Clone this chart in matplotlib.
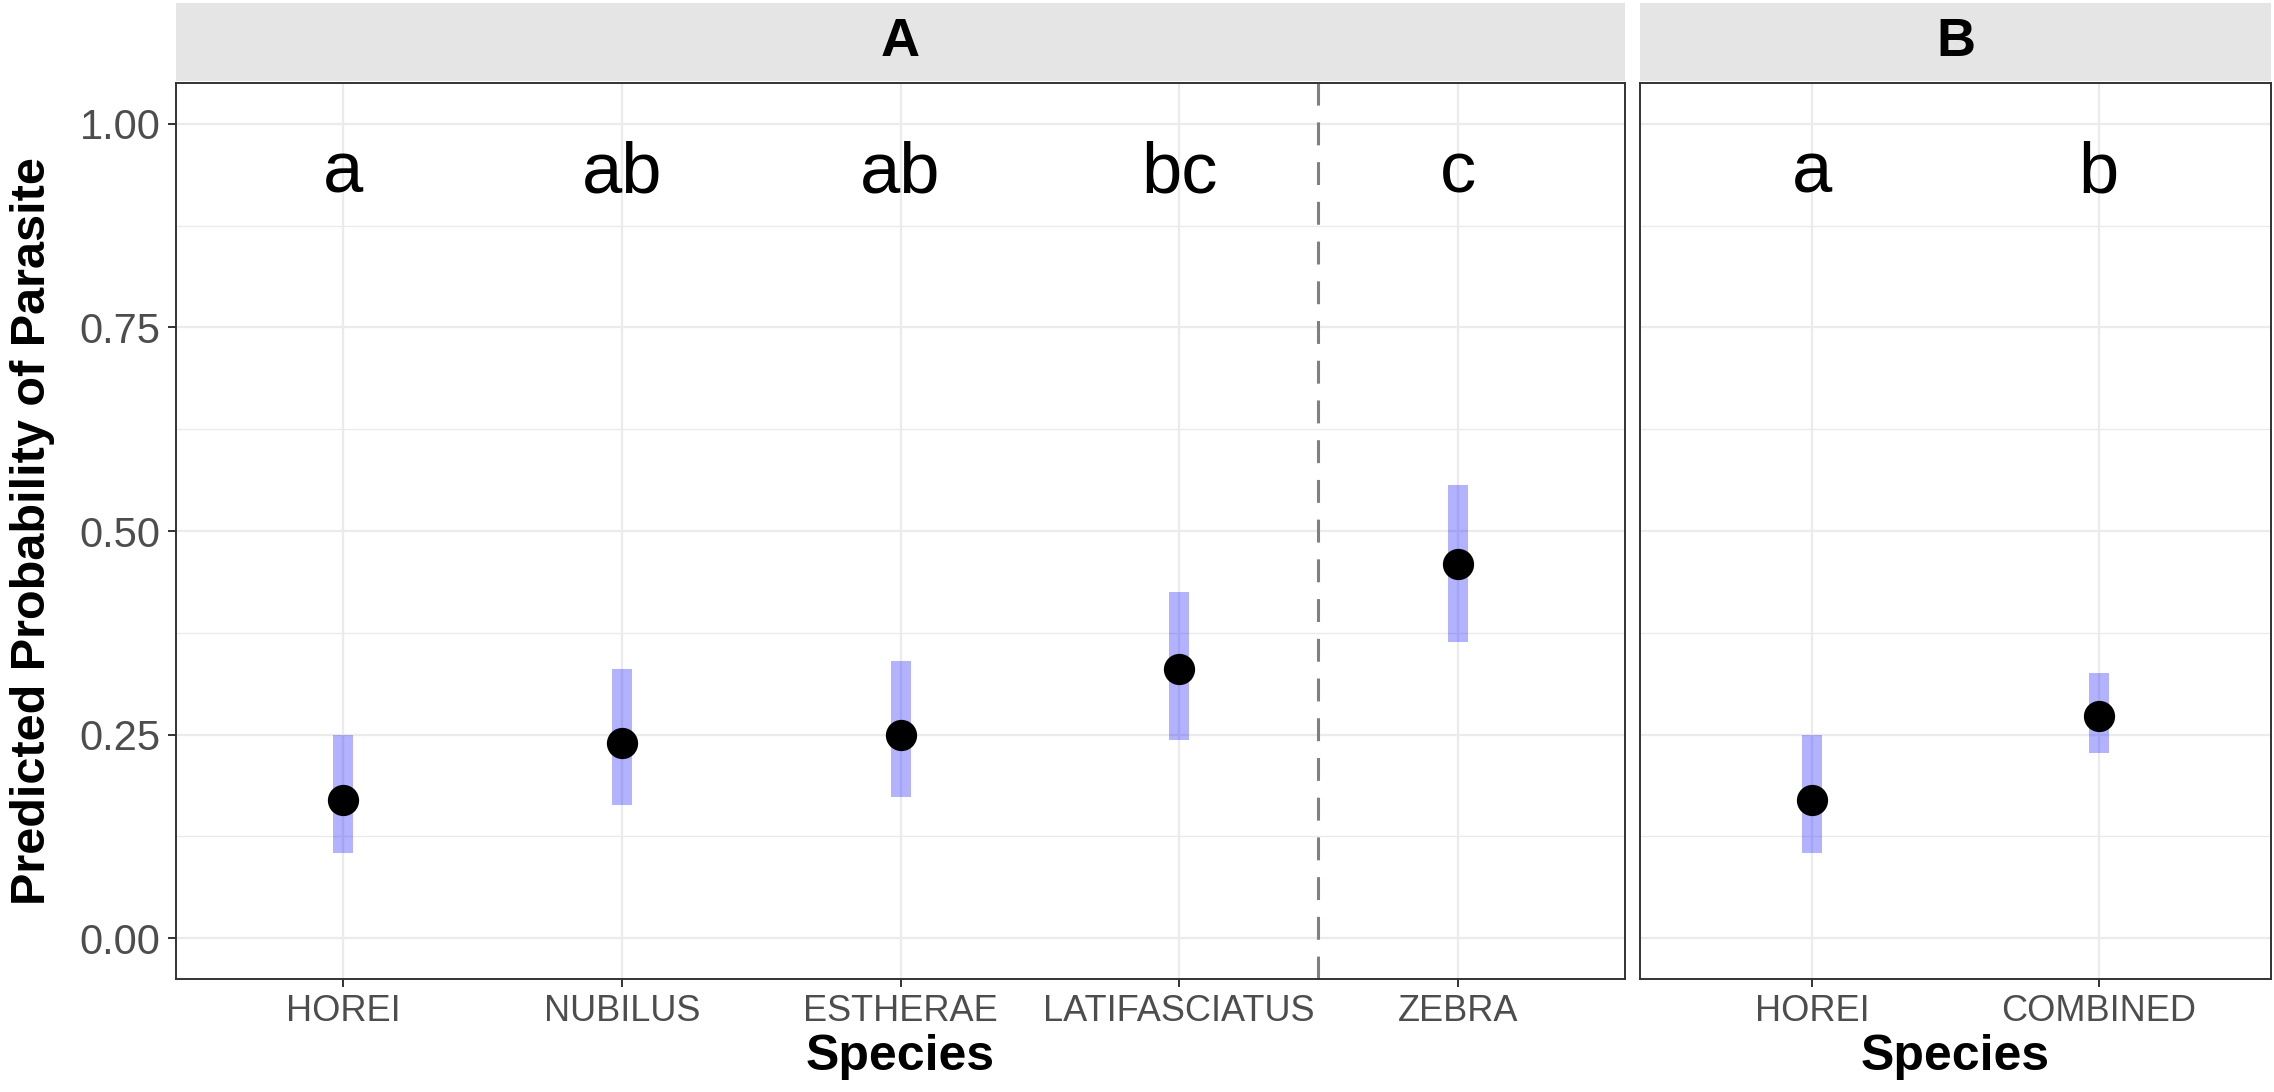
import matplotlib
matplotlib.use("Agg")
import matplotlib.pyplot as plt

plt.rcParams["font.family"] = ["Liberation Sans", "DejaVu Sans"]

# panel A
species_a = ["HOREI", "NUBILUS", "ESTHERAE", "LATIFASCIATUS", "ZEBRA"]
prob_a = [0.17, 0.24, 0.25, 0.33, 0.46]
lower_a = [0.105, 0.164, 0.173, 0.243, 0.364]
upper_a = [0.25, 0.33, 0.34, 0.425, 0.557]
letters_a = ["a", "ab", "ab", "bc", "c"]

# panel B
species_b = ["HOREI", "COMBINED"]
prob_b = [0.17, 0.273]
lower_b = [0.105, 0.227]
upper_b = [0.25, 0.326]
letters_b = ["a", "b"]

W, H = 2274, 1092
fig = plt.figure(figsize=(W / 100, H / 100), dpi=100)


def fx(px):
    return px / W


def fy(px):
    return 1 - px / H


panel_top, panel_bot, strip_top = 83, 979, 3
ax_a = fig.add_axes([fx(176), fy(panel_bot), fx(1625 - 176), (panel_bot - panel_top) / H])
ax_b = fig.add_axes([fx(1640), fy(panel_bot), fx(2271 - 1640), (panel_bot - panel_top) / H])

spine_col = "#333333"
grid_col = "#ebebeb"
label_y = 0.915

for ax, names, p, lo, hi, lets in [
    (ax_a, species_a, prob_a, lower_a, upper_a, letters_a),
    (ax_b, species_b, prob_b, lower_b, upper_b, letters_b),
]:
    x = list(range(len(names)))
    ax.set_xlim(-0.6, len(names) - 0.4)
    ax.set_ylim(-0.05, 1.05)
    ax.set_yticks([0, 0.25, 0.5, 0.75, 1.0])
    ax.set_yticks([0.125, 0.375, 0.625, 0.875], minor=True)
    ax.set_xticks(x)
    ax.set_xticklabels(names, fontsize=26, color="#4d4d4d")
    ax.grid(True, which="major", color=grid_col, lw=1.6, zorder=0)
    ax.grid(True, which="minor", axis="y", color=grid_col, lw=1.0, zorder=0)
    ax.set_axisbelow(True)
    for s in ax.spines.values():
        s.set_color(spine_col)
        s.set_linewidth(1.4)
    ax.tick_params(axis="both", which="major", length=6, width=1.4, color=spine_col, pad=5)
    ax.tick_params(axis="y", which="minor", length=0)

    ax.vlines(x, lo, hi, colors="blue", alpha=0.3, lw=14.4, capstyle="butt", zorder=2)
    ax.scatter(x, p, s=22.5 ** 2, color="black", zorder=3, linewidths=0)
    for xi, t in zip(x, lets):
        ax.text(xi, label_y, t, ha="center", va="baseline", fontsize=52, color="black")

    ax.set_xlabel("Species", fontsize=36, fontweight="bold")
    ax.xaxis.set_label_coords(0.5, -0.087)
    ax.xaxis.label.set_va("center")

ax_a.axvline(3.5, color="#808080", lw=2.2, linestyle=(0, (7.5, 5.5)), zorder=1)

ax_a.set_yticklabels(["0.00", "0.25", "0.50", "0.75", "1.00"], fontsize=30, color="#4d4d4d")
ax_b.tick_params(axis="y", which="both", length=0, labelleft=False)

ax_a.set_ylabel("Predicted Probability of Parasite", fontsize=35, fontweight="bold")
ax_a.yaxis.set_label_coords((33 - 176) / (1625 - 176), 0.5)
ax_a.yaxis.label.set_va("center")

# facet strips
for left, right, title in [(176, 1625, "A"), (1640, 2271, "B")]:
    sax = fig.add_axes([fx(left), fy(81), fx(right - left), (81 - strip_top) / H])
    sax.set_facecolor("#e5e5e5")
    sax.set_xticks([])
    sax.set_yticks([])
    for s in sax.spines.values():
        s.set_visible(False)
    sax.text(0.5, 0.5, title, ha="center", va="center", fontsize=39,
             fontweight="bold", transform=sax.transAxes)

fig.savefig("out.png", dpi=100)
